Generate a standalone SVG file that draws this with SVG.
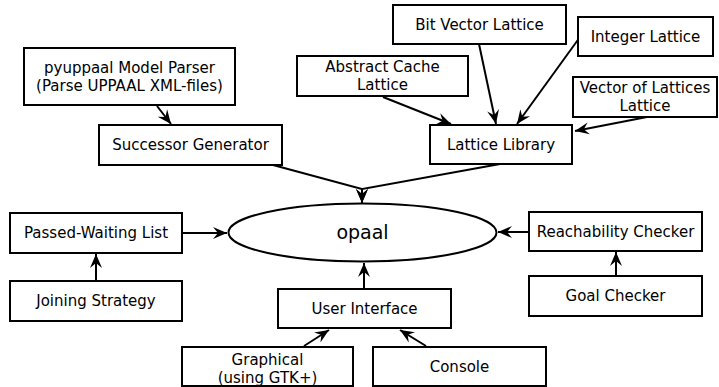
<svg xmlns="http://www.w3.org/2000/svg" width="719" height="387" viewBox="0 0 719 387">
<style>
.box{fill:#fff;stroke:#000;stroke-width:2}
.t{font-family:"DejaVu Sans",sans-serif;font-size:15px;text-anchor:middle;fill:#000}
.big{font-size:19px}
.c{fill:none;stroke:#000;stroke-width:2;marker-end:url(#ah)}
</style>
<defs>
<marker id="ah" markerUnits="userSpaceOnUse" markerWidth="16" markerHeight="14" viewBox="-14 -7 16 14" refX="0" refY="0" orient="auto">
<path d="M0,0 L-14,-6 L-9,0 L-14,6 Z" fill="#000"/>
</marker>
</defs>
<rect width="719" height="387" fill="#fff"/>
<g id="connectors">
<path class="c" d="M157,106 L171,124"/>
<path class="c" d="M383,97 L451,124"/>
<path class="c" d="M479,44 L496,124"/>
<path class="c" d="M580,37 L517,124"/>
<path class="c" d="M647,117 L575,131"/>
<path class="c" d="M273,165 L362,189 L362,203"/>
<path class="c" d="M500,164 L362,189 L362,203"/>
<path class="c" d="M182,233 L227,233"/>
<path class="c" d="M96,281 L96,254"/>
<path class="c" d="M529,232 L498,232"/>
<path class="c" d="M616,276 L616,252"/>
<path class="c" d="M364,289 L364,263"/>
<path class="c" d="M304,346 L329,330"/>
<path class="c" d="M426,346 L400,330"/>
</g>
<g id="pyuppaal"><rect class="box" x="24" y="48" width="211" height="57"/><text class="t" x="129.5" y="73">pyuppaal Model Parser</text><text class="t" x="129.5" y="91">(Parse UPPAAL XML-files)</text></g>
<g id="successor"><rect class="box" x="99" y="125" width="183" height="40"/><text class="t" x="190.5" y="150">Successor Generator</text></g>
<g id="abstractcache"><rect class="box" x="297" y="56" width="171" height="40"/><text class="t" x="382.5" y="72">Abstract Cache</text><text class="t" x="382.5" y="90">Lattice</text></g>
<g id="bitvector"><rect class="box" x="393" y="5" width="173" height="39"/><text class="t" x="479.5" y="30">Bit Vector Lattice</text></g>
<g id="integer"><rect class="box" x="578" y="17" width="135" height="39"/><text class="t" x="645.5" y="42">Integer Lattice</text></g>
<g id="vectoroflattices"><rect class="box" x="573" y="77" width="144" height="40"/><text class="t" x="645" y="93">Vector of Lattices</text><text class="t" x="645" y="111">Lattice</text></g>
<g id="latticelibrary"><rect class="box" x="430" y="125" width="142" height="39"/><text class="t" x="501" y="150">Lattice Library</text></g>
<g id="opaal"><ellipse cx="362.5" cy="232.5" rx="134" ry="29" fill="#fff" stroke="#000" stroke-width="2"/><text class="t big" x="362.5" y="239">opaal</text></g>
<g id="passedwaiting"><rect class="box" x="10" y="213" width="172" height="40"/><text class="t" x="96" y="238">Passed-Waiting List</text></g>
<g id="joining"><rect class="box" x="10" y="281" width="172" height="40"/><text class="t" x="96" y="306">Joining Strategy</text></g>
<g id="reachability"><rect class="box" x="529" y="212" width="173" height="39"/><text class="t" x="615.5" y="237">Reachability Checker</text></g>
<g id="goalchecker"><rect class="box" x="529" y="276" width="173" height="40"/><text class="t" x="615.5" y="301">Goal Checker</text></g>
<g id="userinterface"><rect class="box" x="278" y="289" width="173" height="39"/><text class="t" x="364.5" y="314">User Interface</text></g>
<g id="graphical"><rect class="box" x="182" y="347" width="171" height="39"/><text class="t" x="267.5" y="365">Graphical</text><text class="t" x="267.5" y="383">(using GTK+)</text></g>
<g id="console"><rect class="box" x="373" y="347" width="173" height="39"/><text class="t" x="459.5" y="372">Console</text></g>
</svg>
